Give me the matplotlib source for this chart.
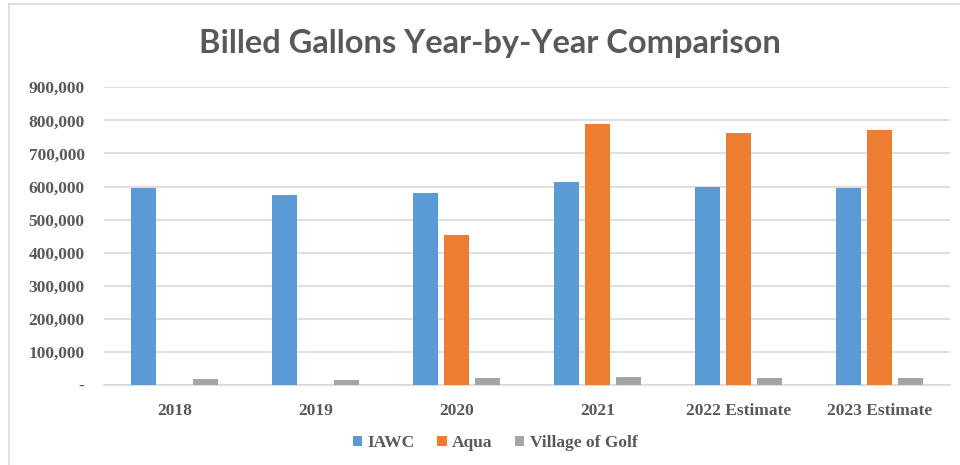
import matplotlib
matplotlib.use("Agg")
import matplotlib.pyplot as plt
import numpy as np
from matplotlib.ticker import FuncFormatter
from matplotlib.lines import Line2D

categories = ["2018", "2019", "2020", "2021", "2022 Estimate", "2023 Estimate"]
iawc = [596000, 573000, 579000, 613000, 599000, 596000]
aqua = [0, 0, 453000, 788000, 761000, 772000]
village = [18000, 15000, 22000, 25000, 20000, 20000]
series_names = ["IAWC", "Aqua", "Village of Golf"]
colors = ["#5B9BD5", "#ED7D31", "#A5A5A5"]

fig = plt.figure(figsize=(9.6, 4.65), dpi=100)
fig.patch.set_facecolor("white")
# outer chart frame (left and top edges visible)
fig.add_artist(Line2D([8.5/960, 8.5/960], [0, 1 - 4/465], transform=fig.transFigure,
                      color="#d9d9d9", linewidth=1.2))
fig.add_artist(Line2D([8.5/960, 1], [1 - 4/465, 1 - 4/465], transform=fig.transFigure,
                      color="#d9d9d9", linewidth=1.2))

ax = fig.add_axes([104/960, 1 - 385/465, 846/960, (385 - 87.3)/465])
x = np.arange(len(categories))
step = 0.223
width = 0.177
for i, (vals, name, c) in enumerate(zip([iawc, aqua, village], series_names, colors)):
    ax.bar(x + (i - 1) * step, vals, width=width, color=c, label=name, zorder=3)

ax.set_xlim(-0.5, len(categories) - 0.5)
ax.set_ylim(0, 900000)
ax.set_yticks(np.arange(0, 900001, 100000))
ax.yaxis.set_major_formatter(FuncFormatter(lambda v, p: "-" if v == 0 else f"{int(v):,}"))
ax.grid(axis="y", color="#d9d9d9", linewidth=1.2, zorder=0)
for s in ["top", "right", "left"]:
    ax.spines[s].set_visible(False)
ax.spines["bottom"].set_color("#d9d9d9")
ax.spines["bottom"].set_linewidth(1.2)
ax.tick_params(axis="both", length=0)
ax.tick_params(axis="y", pad=14)
ax.tick_params(axis="x", pad=13)
ax.set_xticks(x)
ax.set_xticklabels(categories)
for lab in ax.get_yticklabels() + ax.get_xticklabels():
    lab.set_fontfamily("Liberation Serif")
    lab.set_fontweight("bold")
    lab.set_fontsize(12.5)
    lab.set_color("#595959")

fig.text(490/960, 1 - 44/465, "Billed Gallons Year-by-Year Comparison",
         ha="center", va="center", fontsize=23.5, fontweight="bold",
         family="Lato", color="#595959")

leg = fig.legend(loc="center", bbox_to_anchor=(495/960, 1 - 443/465), ncol=3, frameon=False,
                 prop={"family": "Liberation Serif", "weight": "bold", "size": 12.5},
                 handlelength=0.55, handleheight=0.55, handletextpad=0.3, columnspacing=1.3)
for t in leg.get_texts():
    t.set_color("#595959")
    t.set_fontfamily("Liberation Serif")
    t.set_fontweight("bold")

fig.savefig("out.png", dpi=100, facecolor="white")
